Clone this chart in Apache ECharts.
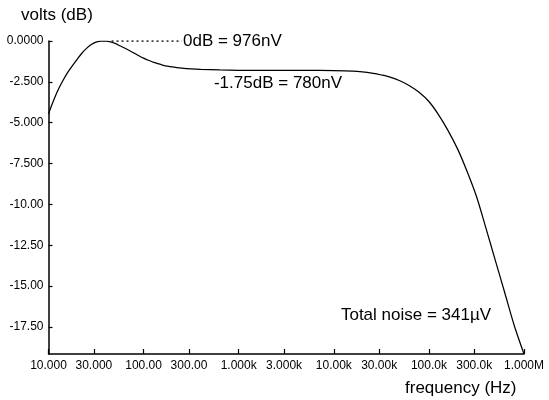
<!DOCTYPE html>
<html>
<head>
<meta charset="utf-8">
<script src="https://cdn.jsdelivr.net/npm/echarts@6/dist/echarts.min.js"></script>
<style>
  html, body { margin: 0; padding: 0; background: #ffffff; }
  #chart { width: 549px; height: 400px; }
</style>
</head>
<body>
<div id="chart"></div>
<script>
// Output noise spectrum, level in dB relative to the 976nV peak
const freqHz = [10, 11.2, 12.6, 14.1, 15.8, 17.8, 20, 22.4, 25.1, 28.2, 31.6, 35.5, 39.8, 44.7, 50.1, 56.2,
  63.1, 70.8, 79.4, 89.1, 100, 112, 126, 141, 158, 178, 200, 251, 316, 398, 631, 1000, 2000, 5000,
  10000, 15800, 20000, 25100, 31600, 39800, 50100, 63100, 79400, 100000, 126000, 158000, 200000,
  251000, 316000, 398000, 501000, 631000, 794000, 1000000];
const levelDb = [-4.45, -3.7, -3.0, -2.45, -1.95, -1.52, -1.12, -0.75, -0.45, -0.22, -0.07, 0, -0.01, -0.05, -0.15, -0.29,
  -0.43, -0.58, -0.74, -0.90, -1.05, -1.18, -1.29, -1.39, -1.47, -1.54, -1.59, -1.66, -1.71, -1.74, -1.77, -1.79, -1.80, -1.80,
  -1.81, -1.84, -1.89, -1.97, -2.08, -2.22, -2.45, -2.75, -3.15, -3.7, -4.5, -5.45, -6.6,
  -7.95, -9.5, -11.45, -13.45, -15.45, -17.45, -19.15];

// Dotted reference at the 0dB peak level
const peakRefFreq = [46, 252];
const peakRefDb = [0, 0];

// Axis ticks
const xTickValues = [10, 30, 100, 300, 1000, 3000, 10000, 30000, 100000, 300000, 1000000];
const xTickLabels = ['10.000', '30.000', '100.00', '300.00', '1.000k', '3.000k', '10.00k', '30.00k', '100.0k', '300.0k', '1.000M'];
const yTickValues = [0, -2.5, -5, -7.5, -10, -12.5, -15, -17.5];
const yTickLabels = ['0.0000', '-2.500', '-5.000', '-7.500', '-10.00', '-12.50', '-15.00', '-17.50'];
const yRange = [-19.15, 0];

const FONT = '"Liberation Sans", Arial, Helvetica, sans-serif';
const lg = v => Math.log10(v);
const xTickLog = xTickValues.map(lg);

function nearestLabel(values, labels, v) {
  let best = 0;
  for (let i = 1; i < values.length; i++) {
    if (Math.abs(values[i] - v) < Math.abs(values[best] - v)) best = i;
  }
  return labels[best];
}

function note(text, x, y, align) {
  return {
    type: 'text', x: x, y: y,
    style: { text: text, font: '17px ' + FONT, fill: '#000', align: align, verticalAlign: 'middle' }
  };
}

const chart = echarts.init(document.getElementById('chart'), null, { renderer: 'canvas' });

chart.setOption({
  animation: false,
  backgroundColor: '#ffffff',
  grid: { left: 48.5, right: 25, top: 41, bottom: 46, containLabel: false },
  xAxis: {
    type: 'value',
    min: lg(xTickValues[0]),
    max: lg(xTickValues[xTickValues.length - 1]),
    axisLine: { show: true, onZero: false, lineStyle: { color: '#000', width: 1.5 } },
    axisTick: { show: true, inside: true, length: 5, customValues: xTickLog, lineStyle: { color: '#000', width: 1.2 } },
    axisLabel: {
      customValues: xTickLog,
      margin: 6,
      color: '#000',
      fontFamily: FONT,
      fontSize: 12,
      formatter: v => nearestLabel(xTickLog, xTickLabels, v)
    },
    splitLine: { show: false }
  },
  yAxis: {
    type: 'value',
    min: yRange[0],
    max: yRange[1],
    axisLine: { show: true, onZero: false, lineStyle: { color: '#000', width: 1.5 } },
    axisTick: { show: true, inside: true, length: 4, customValues: yTickValues, lineStyle: { color: '#000', width: 1.2 } },
    axisLabel: {
      customValues: yTickValues,
      margin: 5,
      color: '#000',
      fontFamily: FONT,
      fontSize: 12,
      formatter: v => nearestLabel(yTickValues, yTickLabels, v)
    },
    splitLine: { show: false }
  },
  series: [
    {
      type: 'line',
      data: freqHz.map((f, i) => [lg(f), levelDb[i]]),
      smooth: 0.3,
      showSymbol: false,
      symbol: 'none',
      lineStyle: { color: '#000', width: 1.25 },
      z: 3
    },
    {
      type: 'line',
      data: peakRefFreq.map((f, i) => [lg(f), peakRefDb[i]]),
      showSymbol: false,
      symbol: 'none',
      lineStyle: { color: '#000', width: 1.4, type: [2, 3] },
      z: 2
    }
  ],
  graphic: [
    note('volts (dB)', 21, 15, 'left'),
    note('frequency (Hz)', 405, 388, 'left'),
    note('0dB = 976nV', 183, 41, 'left'),
    note('-1.75dB = 780nV', 278, 83, 'center'),
    note('Total noise = 341\u00b5V', 416, 315, 'center')
  ]
});
</script>
</body>
</html>
